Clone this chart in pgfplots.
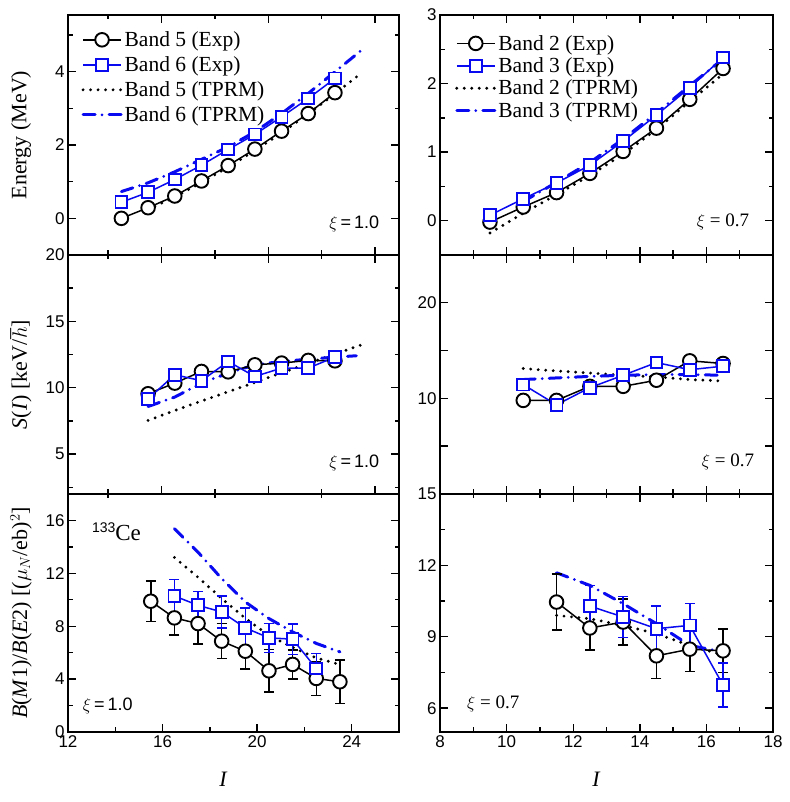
\documentclass[border=0pt]{standalone}
\usepackage{fontspec}
\setmainfont{Liberation Serif}
\newfontfamily\arial{Liberation Sans}
\usepackage{pgfplots}
\pgfplotsset{compat=1.18}
\definecolor{myblue}{RGB}{10,10,240}
\pgfplotsset{
  panel/.style={
    scale only axis,
    axis line style={line width=1.4pt},
    tick style={line width=1.4pt, black},
    major tick length=8pt, minor tick length=4.5pt,
    tick align=inside,
    ticklabel style={font=\arial\fontsize{17}{17}\selectfont},
    /pgf/number format/assume math mode=true,
    every axis y label/.style={at={(axis description cs:-0.142,0.5)}, rotate=90, anchor=center, font=\fontsize{22}{24}\selectfont},
    every axis x label/.style={at={(axis description cs:0.47,-0.2)}, anchor=center, font=\fontsize{22}{24}\selectfont},
    clip=false,
  },
  leftcol/.style={panel, width=331pt},
  rightcol/.style={panel, width=333pt},
  exp5/.style={black, line width=1.5pt, mark=*, mark size=6.8pt, mark options={fill=white, line width=1.9pt, solid}},
  exp6/.style={myblue, line width=1.5pt, mark=square*, mark size=5.9pt, mark options={fill=white, line width=1.9pt, solid}},
  th5/.style={black, line width=3.2pt, line cap=round, dash pattern=on 0pt off 7.5pt, mark=none},
  th6/.style={myblue, line width=3pt, line cap=round, dash pattern=on 12pt off 7pt on 0pt off 7pt, mark=none},
  mylegend/.style={legend style={draw=none, fill=none, font=\fontsize{21.5}{21.5}\selectfont, anchor=north west, legend cell align=left, row sep=#1, inner sep=0pt}},
  errs/.style={error bars/.cd, y dir=both, y explicit, error bar style={line width=1.5pt, solid}, error mark options={rotate=90, mark size=5pt, line width=1.5pt}},
}
\pgfplotsset{legend image code/.code={\draw[mark repeat=2,mark phase=2,#1] plot coordinates {(0pt,0pt) (19pt,0pt) (38pt,0pt)};}}
\begin{document}
\begin{tikzpicture}
\useasboundingbox (0,0) rectangle (789pt,802pt);

% ---------------- Left top: Energy -----------------
\begin{axis}[leftcol, at={(68pt,547pt)}, anchor=south west, height=240pt,
  xmin=12.5, xmax=24.9, ymin=-1, ymax=5.55,
  xtick={16,20,24}, minor xtick={14,18,22}, xticklabels={},
  ytick={0,2,4}, minor ytick={-1,1,3,5},
  ylabel={Energy (MeV)},
  mylegend=4.6pt, legend style={at={(axis description cs:0.04,0.94)}}]
\addplot[exp5] coordinates {(14.5,0.00) (15.5,0.29) (16.5,0.61) (17.5,1.02) (18.5,1.44) (19.5,1.89) (20.5,2.38) (21.5,2.86) (22.5,3.43)};
\addlegendentry{Band 5 (Exp)}
\addplot[exp6] coordinates {(14.5,0.44) (15.5,0.71) (16.5,1.06) (17.5,1.45) (18.5,1.88) (19.5,2.29) (20.5,2.77) (21.5,3.27) (22.5,3.82)};
\addlegendentry{Band 6 (Exp)}
\addplot[th5] coordinates {(15.5,0.25) (16.5,0.58) (17.5,0.98) (18.5,1.40) (19.5,1.85) (20.5,2.33) (21.5,2.85) (22.5,3.40) (23.5,3.97)};
\addlegendentry{Band 5 (TPRM)}
\addplot[th6] coordinates {(14.5,0.73) (15.5,0.97) (16.5,1.27) (17.5,1.61) (18.5,1.95) (19.5,2.36) (20.5,2.86) (21.5,3.41) (22.5,4.00) (23.5,4.59)};
\addlegendentry{Band 6 (TPRM)}
\node[anchor=center, font=\fontsize{18}{18}\selectfont] at (axis description cs:0.865,0.13) {$\xi$\,{\arial=\,1.0}};
\end{axis}

% ---------------- Left middle: S(I) -----------------
\begin{axis}[leftcol, at={(68pt,308pt)}, anchor=south west, height=239pt,
  xmin=12.5, xmax=24.9, ymin=2, ymax=20,
  xtick={16,20,24}, minor xtick={14,18,22}, xticklabels={},
  ytick={5,10,15,20}, minor ytick={2.5,7.5,12.5,17.5},
  ylabel={\textit{S}(\textit{I}) [keV/$\hbar$]}]
\addplot[th5] coordinates {(15.5,7.54) (16.5,8.29) (17.5,9.00) (18.5,9.70) (19.5,10.40) (20.5,11.13) (21.5,11.83) (22.5,12.54) (23.5,13.24)};
\addplot[th6] coordinates {(15.5,8.59) (16.5,9.30) (17.5,10.35) (18.5,11.10) (19.5,11.73) (20.5,11.98) (21.5,12.15) (22.5,12.31) (23.3,12.41)};
\addplot[exp5] coordinates {(15.5,9.55) (16.5,10.35) (17.5,11.23) (18.5,11.20) (19.5,11.73) (20.5,11.86) (21.5,12.06) (22.5,12.03)};
\addplot[exp6] coordinates {(15.5,9.17) (16.5,10.98) (17.5,10.53) (18.5,11.98) (19.5,10.85) (20.5,11.48) (21.5,11.48) (22.5,12.31)};
\node[anchor=center, font=\fontsize{18}{18}\selectfont] at (axis description cs:0.865,0.13) {$\xi$\,{\arial=\,1.0}};
\end{axis}

% ---------------- Left bottom: B(M1)/B(E2) -----------------
\begin{axis}[leftcol, at={(68pt,70pt)}, anchor=south west, height=238pt,
  xmin=12, xmax=26, ymin=0, ymax=18,
  xtick={12,16,20,24}, minor xtick={14,18,22,26}, xtick pos=left,
  ytick={0,4,8,12,16}, minor ytick={2,6,10,14,18},
  xlabel={\textit{I}},
  ylabel={\textit{B}(\textit{M}1)/\textit{B}(\textit{E}2) [($\mu_{N}$/eb)$^2$]}]
\addplot[th5] coordinates {(16.5,13.2) (17.5,11.7) (18.5,10.1) (19.5,8.6) (20.5,7.3) (21.5,6.4) (22.5,5.6) (23.5,5.1)};
\addplot[th6] coordinates {(16.5,15.37) (17.5,13.6) (18.5,11.6) (19.5,9.83) (20.5,8.58) (21.5,7.57) (22.5,6.7) (23.5,6.06)};
\addplot[exp5, errs] coordinates {
 (15.5,9.89) +- (0,1.52)
 (16.5,8.63) +- (0,1.3)
 (17.5,8.20) +- (0,1.53)
 (18.5,6.87) +- (0,1.33)
 (19.5,6.11) +- (0,1.35)
 (20.5,4.63) +- (0,1.6)
 (21.5,5.11) +- (0,1.1)
 (22.5,4.05) +- (0,1.3)
 (23.5,3.80) +- (0,1.65)};
\addplot[exp6, errs] coordinates {
 (16.5,10.29) +- (0,1.25)
 (17.5,9.58) +- (0,1.05)
 (18.5,9.08) +- (0,1.2)
 (19.5,7.87) +- (0,1.5)
 (20.5,7.12) +- (0,1.1)
 (21.5,7.02) +- (0,1.15)
 (22.5,4.80) +- (0,1.15)};
\node[anchor=center, font=\fontsize{18}{18}\selectfont] at (axis description cs:0.12,0.11) {$\xi$\,{\arial=\,1.0}};
\node[anchor=west, inner sep=0pt, font=\fontsize{23}{23}\selectfont] at (axis description cs:0.072,0.84) {\raisebox{8pt}{\arial\fontsize{14}{14}\selectfont 133}Ce};
\end{axis}
% top ticks of bottom-left panel (same scale as upper panels)
\begin{axis}[leftcol, at={(68pt,70pt)}, anchor=south west, height=238pt,
  xmin=12.5, xmax=24.9, ymin=0, ymax=1,
  xtick={16,20,24}, minor xtick={14,18,22}, xticklabels={}, xtick pos=right,
  ytick={0.5}, yticklabels={}, major tick length=0pt]
\end{axis}

% ---------------- Right top: Energy -----------------
\begin{axis}[rightcol, at={(440pt,547pt)}, anchor=south west, height=240pt,
  xmin=8, xmax=18, ymin=-0.5, ymax=3,
  xtick={8,10,...,18}, minor xtick={9,11,...,17}, xticklabels={},
  ytick={0,1,2,3}, minor ytick={-0.5,0.5,1.5,2.5},
  mylegend=2pt, legend style={at={(axis description cs:0.045,0.925)}}]
\addplot[exp5] coordinates {(9.5,-0.02) (10.5,0.20) (11.5,0.41) (12.5,0.69) (13.5,1.01) (14.5,1.35) (15.5,1.77) (16.5,2.22)};
\addlegendentry{Band 2 (Exp)}
\addplot[exp6] coordinates {(9.5,0.08) (10.5,0.32) (11.5,0.55) (12.5,0.81) (13.5,1.16) (14.5,1.54) (15.5,1.94) (16.5,2.38)};
\addlegendentry{Band 3 (Exp)}
\addplot[th5] coordinates {(9.5,-0.18) (10.5,0.11) (11.5,0.38) (12.5,0.66) (13.5,0.97) (14.5,1.33) (15.5,1.74) (16.5,2.14)};
\addlegendentry{Band 2 (TPRM)}
\addplot[th6] coordinates {(10.5,0.28) (11.5,0.56) (12.5,0.85) (13.5,1.19) (14.5,1.57) (15.5,1.97) (16.5,2.36)};
\addlegendentry{Band 3 (TPRM)}
\node[anchor=center, font=\fontsize{19}{19}\selectfont] at (axis description cs:0.85,0.14) {$\xi$ = 0.7};
\end{axis}

% ---------------- Right middle: S(I) -----------------
\begin{axis}[rightcol, at={(440pt,308pt)}, anchor=south west, height=239pt,
  xmin=8, xmax=18, ymin=0, ymax=25,
  xtick={8,10,...,18}, minor xtick={9,11,...,17}, xticklabels={},
  ytick={5,10,15,20}, yticklabels={,10,,20}]
\addplot[th5] coordinates {(10.5,13.12) (11.5,12.87) (12.5,12.66) (13.5,12.42) (14.5,12.25) (15.5,11.97) (16.5,11.82)};
\addplot[th6] coordinates {(10.5,11.97) (11.5,12.14) (12.5,12.30) (13.5,12.42) (14.5,12.49) (15.5,12.49) (16.5,12.42)};
\addplot[exp5] coordinates {(10.5,9.79) (11.5,9.79) (12.5,11.26) (13.5,11.26) (14.5,11.90) (15.5,13.93) (16.5,13.65)};
\addplot[exp6] coordinates {(10.5,11.44) (11.5,9.33) (12.5,11.12) (13.5,12.42) (14.5,13.75) (15.5,13.00) (16.5,13.37)};
\node[anchor=center, font=\fontsize{19}{19}\selectfont] at (axis description cs:0.865,0.135) {$\xi$ = 0.7};
\end{axis}

% ---------------- Right bottom: B(M1)/B(E2) -----------------
\begin{axis}[rightcol, at={(440pt,70pt)}, anchor=south west, height=238pt,
  xmin=8, xmax=18, ymin=5, ymax=15,
  xtick={8,10,...,18}, minor xtick={9,11,...,17},
  ytick={6,9,12,15}, minor ytick={7.5,10.5,13.5},
  xlabel={\textit{I}}]
\addplot[th5] coordinates {(11.5,9.90) (12.5,9.76) (13.5,9.48) (14.5,9.13) (15.5,8.64) (16.5,8.23)};
\addplot[th6] coordinates {(11.5,11.69) (12.5,11.16) (13.5,10.39) (14.5,9.55) (15.5,8.64) (16.5,8.36)};
\addplot[exp5, errs] coordinates {
 (11.5,10.46) +- (0,1.17)
 (12.5,9.37) +- (0,0.92)
 (13.5,9.62) +- (0,0.97)
 (14.5,8.20) +- (0,0.95)
 (15.5,8.48) +- (0,0.93)
 (16.5,8.41) +- (0,0.92)};
\addplot[exp6, errs] coordinates {
 (12.5,10.29) +- (0,0.86)
 (13.5,9.83) +- (0,0.86)
 (14.5,9.34) +- (0,0.95)
 (15.5,9.48) +- (0,0.91)
 (16.5,6.97) +- (0,0.93)};
\node[anchor=center, font=\fontsize{19}{19}\selectfont] at (axis description cs:0.16,0.12) {$\xi$ = 0.7};
\end{axis}
\end{tikzpicture}
\end{document}
